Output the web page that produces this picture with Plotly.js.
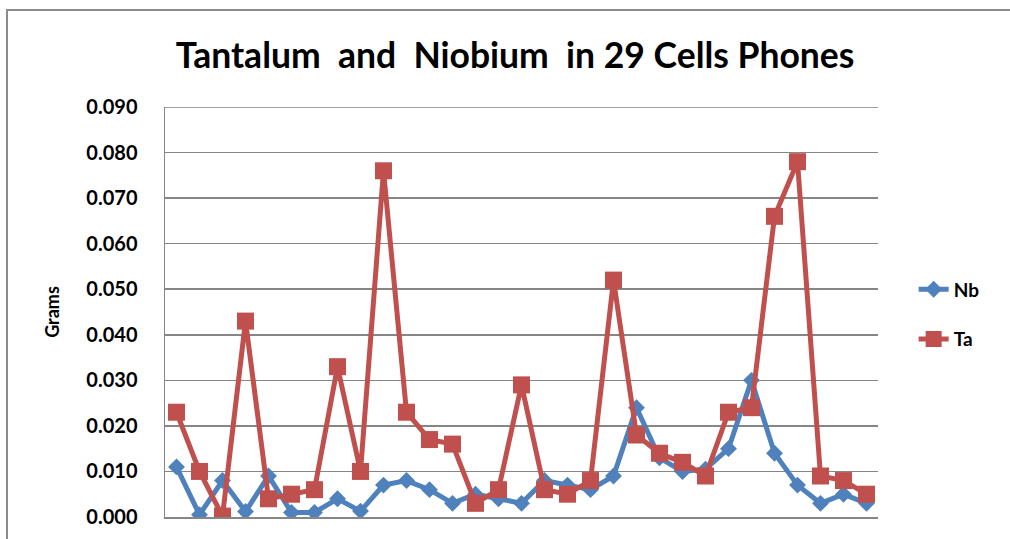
<!DOCTYPE html>
<html>
<head>
<meta charset="utf-8">
<script src="https://cdn.plot.ly/plotly-3.0.1.min.js"></script>
<style>
html,body{margin:0;padding:0;background:#fff;}
#wrap{position:relative;width:1010px;height:539px;overflow:hidden;}
#chart{width:1010px;height:539px;}
#frame{position:absolute;left:6px;top:9px;width:1100px;height:700px;border:2px solid #8c8c8c;pointer-events:none;box-sizing:border-box;}
</style>
</head>
<body>
<div id="wrap"><div id="chart"></div><div id="frame"></div></div>
<script>
const phones = Array.from({length: 31}, (_, i) => String(i + 1));
const nb = [0.011, 0.0005, 0.008, 0.0012, 0.009, 0.001, 0.001, 0.004, 0.0013, 0.007,
            0.008, 0.006, 0.003, 0.005, 0.004, 0.003, 0.008, 0.007, 0.006, 0.009,
            0.024, 0.013, 0.010, 0.0105, 0.015, 0.030, 0.014, 0.007, 0.003, 0.005, 0.003];
const ta = [0.023, 0.010, 0.0002, 0.043, 0.004, 0.005, 0.006, 0.033, 0.010, 0.076,
            0.023, 0.017, 0.016, 0.003, 0.006, 0.029, 0.006, 0.005, 0.008, 0.052,
            0.018, 0.014, 0.012, 0.009, 0.023, 0.024, 0.066, 0.078, 0.009, 0.008, 0.005];
const yTicks = [0, 0.01, 0.02, 0.03, 0.04, 0.05, 0.06, 0.07, 0.08, 0.09];
const yTickText = ["0.000","0.010","0.020","0.030","0.040","0.050","0.060","0.070","0.080","0.090"];

const FONT = "Lato, 'Open Sans', sans-serif";

const traces = [
  {x: phones, y: nb, name: "<b>Nb</b>", type: "scatter", mode: "lines+markers",
   legendgroup: "a",
   line: {color: "#4F81BD", width: 5},
   marker: {symbol: "diamond", size: 13, color: "#4F81BD"}},
  {x: phones, y: ta, name: "<b>Ta</b>", type: "scatter", mode: "lines+markers",
   legendgroup: "b",
   line: {color: "#C0504D", width: 5},
   marker: {symbol: "square", size: 17, color: "#C0504D"}}
];

const layout = {
  width: 1010, height: 539,
  margin: {l: 165, r: 132, t: 107, b: 22},
  paper_bgcolor: "#fff", plot_bgcolor: "#fff",
  showlegend: true,
  font: {family: FONT, color: "#000"},
  title: {text: "<b>Tantalum&nbsp;&nbsp;and&nbsp;&nbsp;Niobium&nbsp;&nbsp;in 29 Cells Phones</b>",
          font: {family: FONT, size: 35.5, color: "#000"},
          x: 0.51, xanchor: "center", y: 0.897, yanchor: "middle"},
  xaxis: {type: "category", showticklabels: false, showgrid: false,
          showline: true, linecolor: "#868686", linewidth: 1.5,
          zeroline: false, ticks: "", range: [-0.5, 30.5], fixedrange: true},
  yaxis: {range: [0, 0.09], tickvals: yTicks, ticktext: yTickText,
          showgrid: true, gridcolor: "#868686", gridwidth: 1.5,
          showline: true, linecolor: "#868686", linewidth: 1.5,
          zeroline: false, ticks: "", ticklabelstandoff: 22,
          tickfont: {family: FONT, size: 20, color: "#000", weight: "bold"},
          title: {text: "<b>Grams</b>", font: {family: FONT, size: 18, color: "#000"}, standoff: 22}},
  legend: {x: 1.05, xanchor: "left", y: 0.494, yanchor: "middle",
           font: {family: FONT, size: 19, color: "#000"},
           traceorder: "grouped", tracegroupgap: 22, bgcolor: "rgba(0,0,0,0)"},
  shapes: [{type: "line", xref: "paper", yref: "y", x0: 0, x1: 1, y0: 0.09, y1: 0.09,
            line: {color: "#868686", width: 1.5}}]
};

Plotly.newPlot("chart", traces, layout, {displayModeBar: false, staticPlot: true});
</script>
</body>
</html>
